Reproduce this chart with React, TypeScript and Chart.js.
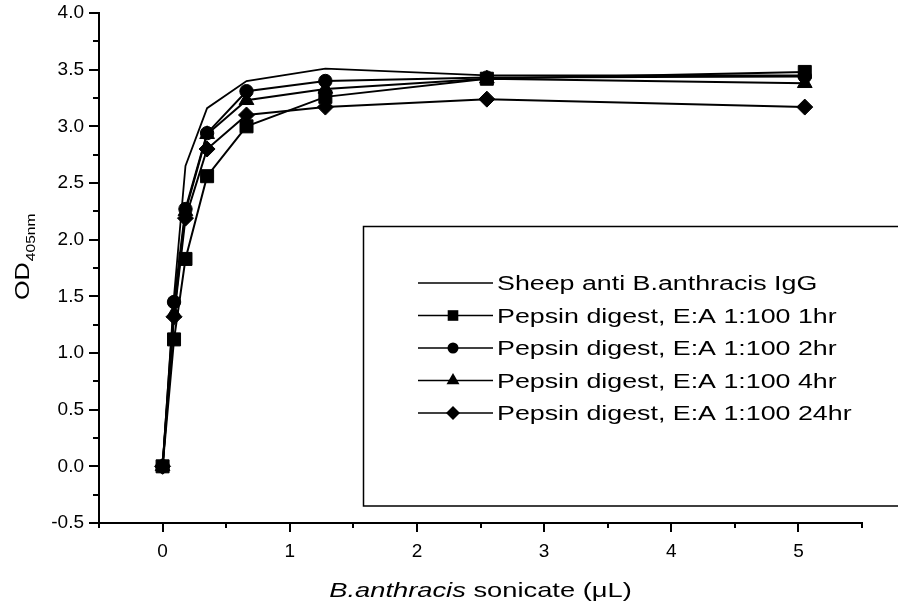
import React, { useEffect, useRef } from 'react';
import { Chart, registerables } from 'chart.js';

Chart.register(...registerables);

// ---- data ----
const sonicateUL = [0, 0.09, 0.18, 0.35, 0.66, 1.28, 2.55, 5.05];
const sheepIgG = [0, 1.5, 2.65, 3.16, 3.4, 3.51, 3.45, 3.45];
const pepsin1hr = [0, 1.12, 1.83, 2.56, 3.0, 3.26, 3.42, 3.48];
const pepsin2hr = [0, 1.45, 2.27, 2.94, 3.31, 3.4, 3.43, 3.44];
const pepsin4hr = [0, 1.35, 2.25, 2.93, 3.23, 3.33, 3.42, 3.38];
const pepsin24hr = [0, 1.32, 2.19, 2.8, 3.1, 3.17, 3.24, 3.17];

const seriesLabels = [
  'Sheep anti B.anthracis IgG',
  'Pepsin digest, E:A 1:100 1hr',
  'Pepsin digest, E:A 1:100 2hr',
  'Pepsin digest, E:A 1:100 4hr',
  'Pepsin digest, E:A 1:100 24hr',
];
const seriesMarkers = ['none', 'rect', 'circle', 'triangle', 'rectRot'];

const xAxisItalic = 'B.anthracis';
const xAxisRest = ' sonicate (\u03BCL)';
const yAxisMain = 'OD';
const yAxisSub = '405nm';

const FONT = '"Liberation Sans", Arial, Helvetica, sans-serif';

function stretchedText(ctx: CanvasRenderingContext2D, text: string, x: number, y: number, font: string, sx: number) {
  ctx.save();
  ctx.font = font;
  const w = ctx.measureText(text).width * sx;
  ctx.translate(x, y);
  ctx.scale(sx, 1);
  ctx.textAlign = 'left';
  ctx.textBaseline = 'alphabetic';
  ctx.fillStyle = '#000';
  ctx.fillText(text, 0, 0);
  ctx.restore();
  return w;
}

function textWidth(ctx: CanvasRenderingContext2D, text: string, font: string, sx: number) {
  ctx.save();
  ctx.font = font;
  const w = ctx.measureText(text).width * sx;
  ctx.restore();
  return w;
}

function marker(ctx: CanvasRenderingContext2D, style: string, x: number, y: number, r: number) {
  ctx.beginPath();
  if (style === 'rect') {
    const s = r * Math.SQRT1_2;
    ctx.rect(x - s, y - s, 2 * s, 2 * s);
  } else if (style === 'circle') {
    ctx.arc(x, y, r, 0, Math.PI * 2);
  } else if (style === 'triangle') {
    ctx.moveTo(x, y - r);
    ctx.lineTo(x + r * Math.sin((2 * Math.PI) / 3), y - r * Math.cos((2 * Math.PI) / 3));
    ctx.lineTo(x + r * Math.sin((4 * Math.PI) / 3), y - r * Math.cos((4 * Math.PI) / 3));
    ctx.closePath();
  } else if (style === 'rectRot') {
    ctx.moveTo(x, y - r);
    ctx.lineTo(x + r, y);
    ctx.lineTo(x, y + r);
    ctx.lineTo(x - r, y);
    ctx.closePath();
  }
  ctx.fillStyle = '#000';
  ctx.fill();
}

const decorPlugin = {
  id: 'decor',
  afterDraw(chart: any) {
    const ctx: CanvasRenderingContext2D = chart.ctx;
    const xs = chart.scales.x;
    const ys = chart.scales.y;
    const area = chart.chartArea;
    ctx.save();
    ctx.strokeStyle = '#000';
    ctx.lineWidth = 2;
    // y ticks (outward, left)
    for (let i = 0; i <= 18; i++) {
      const v = -0.5 + i * 0.25;
      const py = Math.round(ys.getPixelForValue(v));
      const len = i % 2 === 0 ? 10 : 6;
      ctx.beginPath();
      ctx.moveTo(area.left, py);
      ctx.lineTo(area.left - len, py);
      ctx.stroke();
    }
    // x ticks (outward, below)
    for (let i = 0; i <= 12; i++) {
      const v = -0.5 + i * 0.5;
      const px = Math.round(xs.getPixelForValue(v));
      const len = i % 2 === 1 ? 9 : 5;
      ctx.beginPath();
      ctx.moveTo(px, area.bottom);
      ctx.lineTo(px, area.bottom + len);
      ctx.stroke();
    }

    // x axis title
    const fItal = `italic 21px ${FONT}`;
    const fNorm = `21px ${FONT}`;
    const sxT = 1.3;
    const total = textWidth(ctx, xAxisItalic, fItal, sxT) + textWidth(ctx, xAxisRest, fNorm, sxT);
    let tx = (area.left + area.right) / 2 - total / 2;
    tx += stretchedText(ctx, xAxisItalic, tx, 597, fItal, sxT);
    stretchedText(ctx, xAxisRest, tx, 597, fNorm, sxT);

    // y axis title (rotated)
    ctx.save();
    ctx.translate(29, 300);
    ctx.rotate(-Math.PI / 2);
    const wOD = stretchedText(ctx, yAxisMain, 0, 0, `21px ${FONT}`, 1.2);
    stretchedText(ctx, yAxisSub, wOD + 1, 6, `12px ${FONT}`, 1.3);
    ctx.restore();

    // legend box
    ctx.lineWidth = 1.5;
    ctx.beginPath();
    ctx.moveTo(910, 226.5);
    ctx.lineTo(363.5, 226.5);
    ctx.lineTo(363.5, 506);
    ctx.lineTo(910, 506);
    ctx.stroke();

    const legendMarkerR: Record<string, number> = { rect: 7.5, circle: 5.5, triangle: 7.5, rectRot: 7 };
    seriesLabels.forEach((lab, i) => {
      const cy = 283 + i * 32.5;
      ctx.lineWidth = 1.5;
      ctx.beginPath();
      ctx.moveTo(418, cy);
      ctx.lineTo(493, cy);
      ctx.stroke();
      const st = seriesMarkers[i];
      if (st !== 'none') marker(ctx, st, 453, cy, legendMarkerR[st]);
      stretchedText(ctx, lab, 497, cy + 7, `20px ${FONT}`, 1.34);
    });
    ctx.restore();
  },
};

function pts(ys: number[]) {
  return sonicateUL.map((x, i) => ({ x, y: ys[i] }));
}

export default function App() {
  const ref = useRef<HTMLCanvasElement | null>(null);
  useEffect(() => {
    if (!ref.current) return;
    const base = {
      borderColor: '#000',
      backgroundColor: '#000',
      pointBackgroundColor: '#000',
      pointBorderColor: '#000',
      borderWidth: 2,
      pointBorderWidth: 1,
      tension: 0,
      showLine: true,
      fill: false,
    };
    const chart = new Chart(ref.current, {
      type: 'scatter',
      data: {
        datasets: [
          { ...base, label: seriesLabels[0], data: pts(sheepIgG), pointRadius: 0, borderWidth: 1.8 },
          { ...base, label: seriesLabels[1], data: pts(pepsin1hr), pointStyle: 'rect', pointRadius: 9.2 },
          { ...base, label: seriesLabels[2], data: pts(pepsin2hr), pointStyle: 'circle', pointRadius: 6.7 },
          { ...base, label: seriesLabels[3], data: pts(pepsin4hr), pointStyle: 'triangle', pointRadius: 8.5 },
          { ...base, label: seriesLabels[4], data: pts(pepsin24hr), pointStyle: 'rectRot', pointRadius: 8 },
        ],
      },
      options: {
        animation: false,
        responsive: false,
        devicePixelRatio: 1,
        layout: { padding: { top: 13, right: 36, left: 0, bottom: 0 } },
        plugins: { legend: { display: false }, tooltip: { enabled: false } },
        scales: {
          x: {
            type: 'linear',
            min: -0.5,
            max: 5.5,
            ticks: {
              stepSize: 0.5,
              autoSkip: false,
              maxRotation: 0,
              padding: 9,
              color: '#000',
              font: { family: FONT, size: 19 },
              callback: (v: any) => (Math.abs(v - Math.round(v)) < 1e-6 ? String(Math.round(v)) : ''),
            },
            grid: { display: false },
            border: { display: true, color: '#000', width: 2 },
            afterFit: (s: any) => {
              s.height = 88;
              s.paddingLeft = 0;
              s.paddingRight = 0;
            },
          },
          y: {
            type: 'linear',
            min: -0.5,
            max: 4.0,
            ticks: {
              stepSize: 0.25,
              autoSkip: false,
              padding: 7,
              color: '#000',
              font: { family: FONT, size: 19 },
              callback: (v: any) => (Math.round(v * 4) % 2 === 0 ? Number(v).toFixed(1) : ''),
            },
            grid: { display: false },
            border: { display: true, color: '#000', width: 2 },
            afterFit: (s: any) => {
              s.width = 99;
              s.paddingTop = 0;
              s.paddingBottom = 0;
            },
          },
        },
      } as any,
      plugins: [decorPlugin],
    });
    return () => chart.destroy();
  }, []);
  return (
    <div style={{ position: 'fixed', left: 0, top: 0, width: 898, height: 611, background: '#fff' }}>
      <canvas ref={ref} width={898} height={611} style={{ width: 898, height: 611, display: 'block' }} />
    </div>
  );
}
